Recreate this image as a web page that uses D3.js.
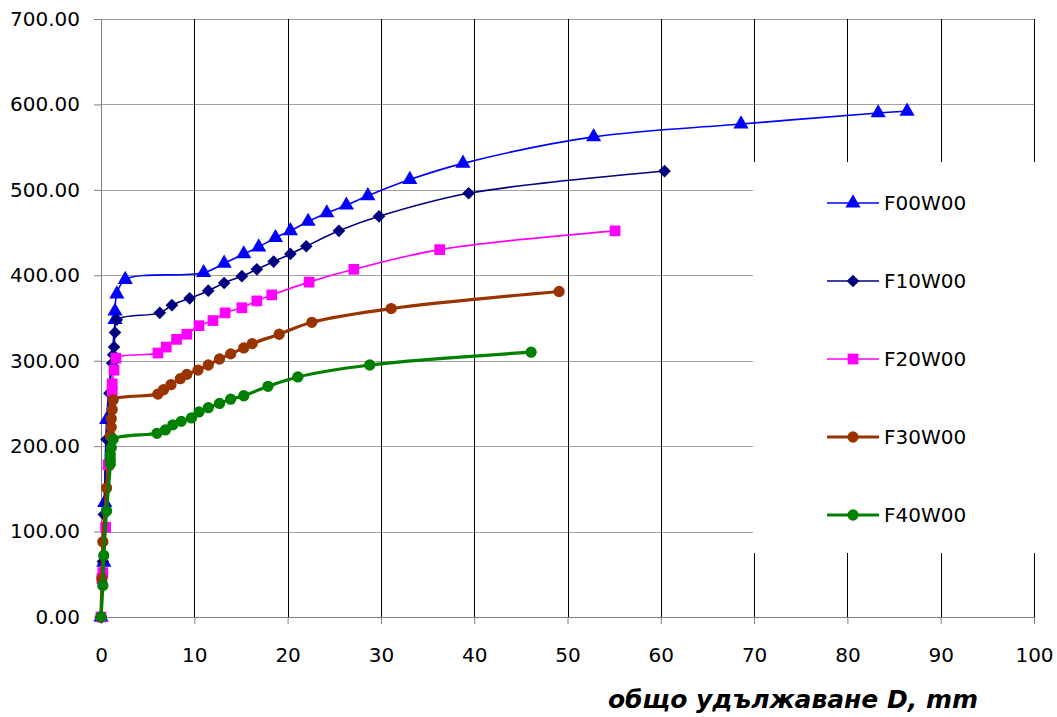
<!DOCTYPE html>
<html>
<head>
<meta charset="utf-8">
<script src="https://cdn.jsdelivr.net/npm/d3@7"></script>
<style>
  body { margin: 0; background: #fff; }
  text { font-family: "DejaVu Sans", Verdana, sans-serif; }
</style>
</head>
<body>
<script>
// series values
const seriesNames = ["F00W00", "F10W00", "F20W00", "F30W00", "F40W00"]

const f00x = [0, 0.3, 0.4, 0.6, 1.5, 1.5, 1.7, 2.6, 11.0, 13.2, 15.3, 16.9, 18.7, 20.3, 22.2, 24.2, 26.3, 28.6, 33.1, 38.8, 52.8, 68.6, 83.3, 86.4]
const f00y = [0, 64, 134, 231, 348, 358, 378, 395, 403, 414, 425, 433, 444, 452, 463, 473, 482, 493, 512, 531, 562, 577, 590, 592]

const f10x = [0, 0.2, 0.3, 0.6, 0.9, 1.2, 1.3, 1.4, 1.5, 1.7, 6.3, 7.6, 9.5, 11.5, 13.2, 15.1, 16.7, 18.5, 20.3, 22.0, 25.5, 29.8, 39.4, 60.4]
const f10y = [0, 65, 120, 208, 262, 297, 307, 316, 333, 348, 356, 365, 373, 382, 391, 399, 407, 416, 425, 434, 452, 469, 496, 522]

const f20x = [0, 0.1, 0.2, 0.5, 0.75, 1.2, 1.2, 1.4, 1.6, 6.1, 7.0, 8.1, 9.2, 10.5, 12.0, 13.3, 15.1, 16.7, 18.3, 22.3, 27.1, 36.3, 55.1]
const f20y = [0, 45, 52, 105, 178, 264, 273, 289, 303, 309, 316, 325, 331, 341, 347, 356, 362, 370, 377, 392, 407, 430, 452]

const f30x = [0, 0.1, 0.2, 0.6, 1.0, 1.1, 1.1, 1.2, 1.3, 6.1, 6.7, 7.5, 8.5, 9.2, 10.4, 11.5, 12.7, 13.9, 15.3, 16.2, 19.1, 22.6, 31.1, 49.1]
const f30y = [0, 45, 88, 151, 212, 222, 232, 243, 254, 261, 266, 272, 279, 284, 289, 295, 302, 308, 315, 320, 331, 345, 361, 381]

const f40x = [0, 0.2, 0.3, 0.6, 1.0, 1.0, 1.0, 1.1, 1.3, 6.0, 6.9, 7.7, 8.6, 9.7, 10.5, 11.5, 12.7, 13.9, 15.3, 17.9, 21.1, 28.8, 46.1]
const f40y = [0, 37, 72, 124, 179, 184, 190, 198, 208, 215, 219, 225, 229, 233, 240, 245, 250, 255, 259, 270, 281, 295, 310]

const xTicks = [0, 10, 20, 30, 40, 50, 60, 70, 80, 90, 100]
const yTicks = [0, 100, 200, 300, 400, 500, 600, 700]
const xTitle = "общо удължаване D, mm"

const container = { width: 1057, height: 717 }
const margin = { top: 19, right: 23, bottom: 100, left: 101 }
const chartWidth = container.width - margin.left - margin.right,
      chartHeight = container.height - margin.top - margin.bottom

const styles = [
    { color: "#0000ff", width: 1.6, symbol: d3.symbolTriangle, size: 100, rotate: 0 },
    { color: "#000080", width: 1.6, symbol: d3.symbolSquare, size: 80, rotate: 45 },
    { color: "#ff00ff", width: 1.6, symbol: d3.symbolSquare, size: 115, rotate: 0 },
    { color: "#993300", width: 3.2, symbol: d3.symbolCircle, size: 100, rotate: 0 },
    { color: "#008000", width: 3.2, symbol: d3.symbolCircle, size: 100, rotate: 0 }
]

const xs = [f00x, f10x, f20x, f30x, f40x],
      ys = [f00y, f10y, f20y, f30y, f40y]
const series = seriesNames.map((name, i) => ({
    name: name,
    style: styles[i],
    points: xs[i].map((x, j) => ({ x: x, y: ys[i][j] }))
}))

let svg = d3.select('body').append('svg')
    .attr('width', container.width)
    .attr('height', container.height)
let chart = svg.append('g')
    .attr('transform', `translate(${margin.left},${margin.top})`)

let x = d3.scaleLinear().domain([0, 100]).range([0, chartWidth])
let y = d3.scaleLinear().domain([0, 700]).range([chartHeight, 0])

//grid
chart.append('g').selectAll('line')
    .data(yTicks.slice(1)).enter()
    .append('line')
    .attr('x1', 0).attr('x2', chartWidth)
    .attr('y1', d => Math.round(y(d)) + 0.5).attr('y2', d => Math.round(y(d)) + 0.5)
    .attr('stroke', '#a0a0a0')
chart.append('g').selectAll('line')
    .data(xTicks.slice(1)).enter()
    .append('line')
    .attr('y1', 0).attr('y2', chartHeight)
    .attr('x1', d => Math.round(x(d)) + 0.5).attr('x2', d => Math.round(x(d)) + 0.5)
    .attr('stroke', '#000')

//axes
let xAxis = d3.axisBottom(x).tickValues(xTicks).tickSize(7).tickPadding(24).tickFormat(d3.format('d')),
    yAxis = d3.axisLeft(y).tickValues(yTicks).tickSize(7).tickPadding(14).tickFormat(d3.format('.2f'))

let gx = chart.append('g')
    .attr('transform', `translate(0,${chartHeight})`)
    .call(xAxis)
let gy = chart.append('g')
    .call(yAxis)
for (const g of [gx, gy]) {
    g.select('.domain').attr('stroke', '#808080')
    g.selectAll('.tick line').attr('stroke', '#808080')
    g.selectAll('.tick text')
        .attr('fill', '#000')
        .style('font-family', '"DejaVu Sans", Verdana, sans-serif')
        .style('font-size', '20px')
}

//lines
const line = d3.line()
    .x(d => x(d.x))
    .y(d => y(d.y))
    .curve(d3.curveCatmullRom.alpha(0.5))

const drawMarker = (sel, s) => sel
    .attr('d', d3.symbol().type(s.symbol).size(s.size))
    .attr('fill', s.color)

series.forEach(s => {
    let g = chart.append('g')
    g.append('path')
        .datum(s.points)
        .attr('d', line)
        .attr('fill', 'none')
        .attr('stroke', s.style.color)
        .attr('stroke-width', s.style.width)
    g.selectAll('.mark')
        .data(s.points).enter()
        .append('path')
        .attr('class', 'mark')
        .attr('transform', d => `translate(${x(d.x)},${y(d.y)}) rotate(${s.style.rotate})`)
        .call(drawMarker, s.style)
})

//legend
svg.append('rect')
    .attr('x', 753).attr('y', 162)
    .attr('width', container.width - 753).attr('height', 391)
    .attr('fill', '#fff')

let legend = svg.append('g').selectAll('.legend')
    .data(series).enter()
    .append('g')
    .attr('class', 'legend')
    .attr('transform', (d, i) => `translate(853,${203 + i * 78})`)

legend.append('line')
    .attr('x1', -26).attr('x2', 26)
    .attr('stroke', d => d.style.color)
    .attr('stroke-width', d => d.style.width)
legend.append('path')
    .attr('transform', d => `rotate(${d.style.rotate})`)
    .each(function(d) { d3.select(this).call(drawMarker, d.style) })
legend.append('text')
    .attr('x', 31)
    .attr('dy', '0.36em')
    .style('font-size', '20px')
    .text(d => d.name)

svg.append('text')
    .attr('x', 793)
    .attr('y', 708)
    .attr('text-anchor', 'middle')
    .style('font-size', '25px')
    .style('font-weight', 'bold')
    .style('font-style', 'italic')
    .text(xTitle)
</script>
</body>
</html>
